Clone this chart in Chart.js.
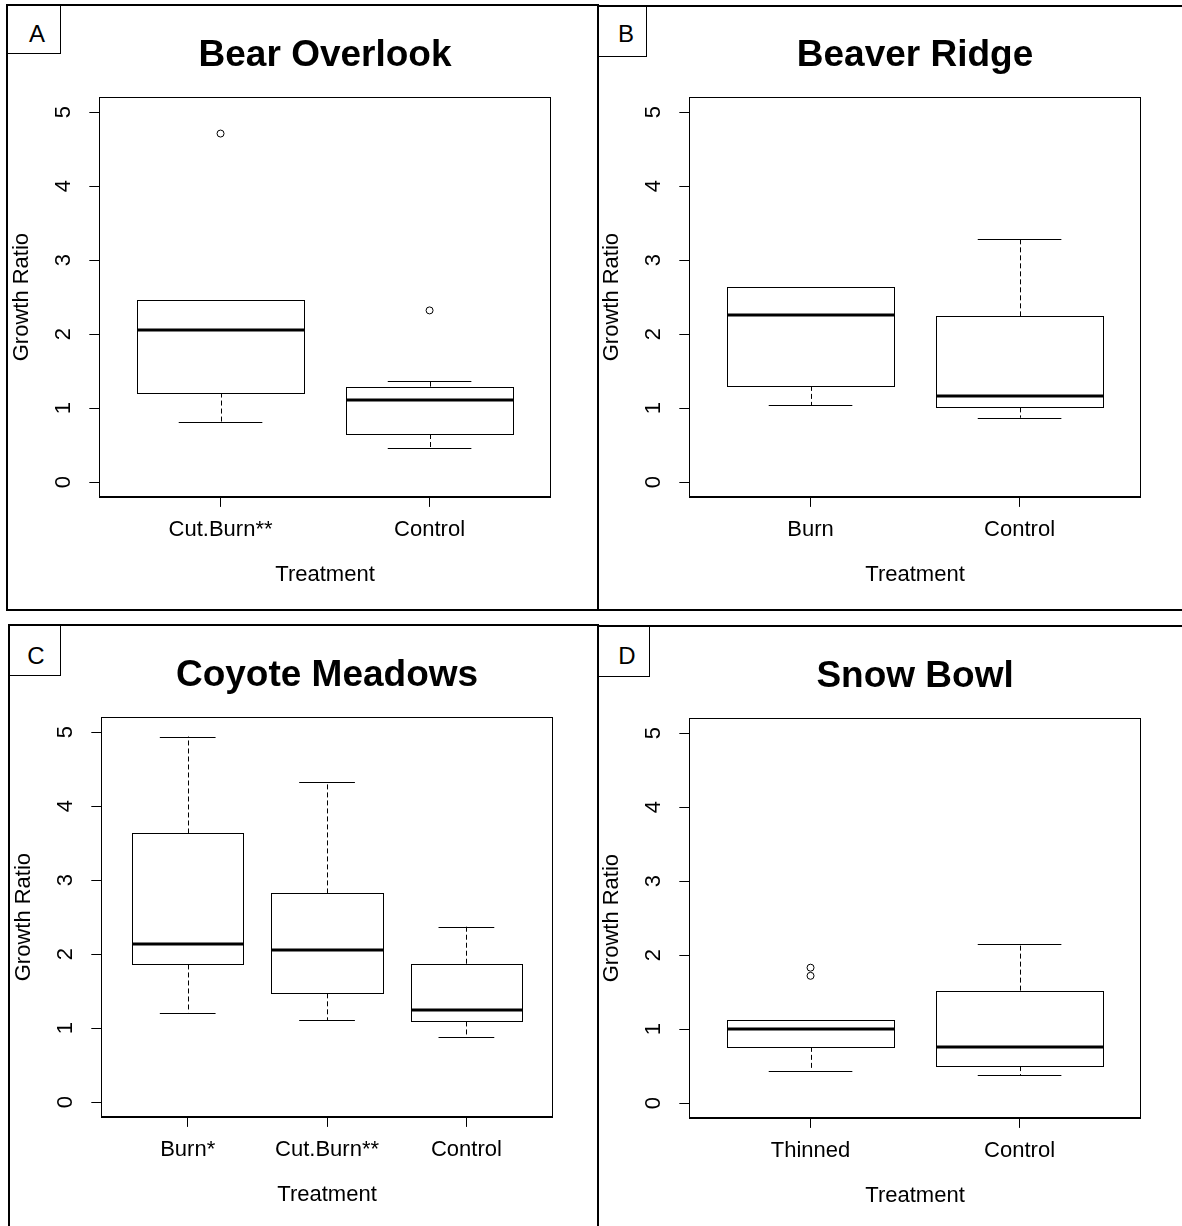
<!DOCTYPE html>
<html>
<head>
<meta charset="utf-8">
<script src="https://cdn.jsdelivr.net/npm/chart.js@4.4.1/dist/chart.umd.min.js"></script>
<style>
  body { margin: 0; background: #fff; width: 1182px; height: 1226px; overflow: hidden; position: relative;
         font-family: "Liberation Sans", Arial, sans-serif; }
  .frame { position: absolute; border: 2px solid #000; box-sizing: border-box; }
  .tag { position: absolute; border: 1.5px solid #000; box-sizing: border-box; }
  .letter { position: absolute; font-size: 24px; line-height: 1; transform: translate(-50%, -50%); color: #000; }
  .panel { position: absolute; width: 598px; height: 610px; }
</style>
</head>
<body>
<div class="frame" style="left:6px;top:4px;width:593px;height:607px"></div>
<div class="frame" style="left:597px;top:5px;width:620px;height:606px"></div>
<div class="frame" style="left:8px;top:624px;width:591px;height:640px"></div>
<div class="frame" style="left:597px;top:625px;width:620px;height:640px"></div>

<div class="tag" style="left:6px;top:4px;width:55px;height:50px"></div>
<div class="tag" style="left:597px;top:5px;width:50px;height:52px"></div>
<div class="tag" style="left:8px;top:624px;width:53px;height:52px"></div>
<div class="tag" style="left:597px;top:625px;width:53px;height:52px"></div>
<div class="letter" style="left:37px;top:34px">A</div>
<div class="letter" style="left:626px;top:34px">B</div>
<div class="letter" style="left:36px;top:656px">C</div>
<div class="letter" style="left:627px;top:656px">D</div>

<div class="panel" style="left:0px;top:0px"><canvas id="chartA" width="598" height="610"></canvas></div>
<div class="panel" style="left:590px;top:0px"><canvas id="chartB" width="598" height="610"></canvas></div>
<div class="panel" style="left:2px;top:620px"><canvas id="chartC" width="598" height="610"></canvas></div>
<div class="panel" style="left:590px;top:621px"><canvas id="chartD" width="598" height="610"></canvas></div>

<script>
// eixo y comum
const yTicks = [0, 1, 2, 3, 4, 5];

// A - Bear Overlook
const catsA = ["Cut.Burn**", "Control"];
const lowA = [0.81, 0.46];
const q1A = [1.21, 0.65];
const medA = [2.05, 1.11];
const q3A = [2.46, 1.29];
const highA = [2.46, 1.37];
const outA = [[4.71], [2.32]];

// B - Beaver Ridge
const catsB = ["Burn", "Control"];
const lowB = [1.04, 0.87];
const q1B = [1.30, 1.01];
const medB = [2.26, 1.17];
const q3B = [2.63, 2.24];
const highB = [2.63, 3.28];
const outB = [[], []];

// C - Coyote Meadows
const catsC = ["Burn*", "Cut.Burn**", "Control"];
const lowC = [1.21, 1.11, 0.88];
const q1C = [1.86, 1.47, 1.09];
const medC = [2.14, 2.06, 1.25];
const q3C = [3.63, 2.82, 1.87];
const highC = [4.94, 4.33, 2.37];
const outC = [[], [], []];

// D - Snow Bowl
const catsD = ["Thinned", "Control"];
const lowD = [0.44, 0.38];
const q1D = [0.76, 0.50];
const medD = [1.00, 0.76];
const q3D = [1.12, 1.52];
const highD = [1.12, 2.15];
const outD = [[1.83, 1.72], []];

Chart.defaults.font.family = '"Liberation Sans", Arial, sans-serif';
Chart.defaults.color = "#000";

const snap = (v) => Math.round(v) + 0.5;

// desenha caixas estilo R usando as escalas do grafico
const boxPlugin = {
  id: "boxes",
  beforeDatasetsDraw(chart) {
    const { ctx, chartArea: a, scales: { x, y } } = chart;
    const b = chart.options.plugins.boxes;
    ctx.save();
    ctx.strokeStyle = "#000";
    ctx.lineWidth = 1;
    ctx.strokeRect(snap(a.left), snap(a.top), Math.round(a.right - a.left), Math.round(a.bottom - a.top));

    b.q1.forEach((_, i) => {
      const cx = x.getPixelForValue(i + 1);
      const hw = x.getPixelForValue(i + 1.4) - cx;
      const sw = x.getPixelForValue(i + 1.2) - cx;
      const pLow = y.getPixelForValue(b.low[i]);
      const pQ1 = y.getPixelForValue(b.q1[i]);
      const pMed = y.getPixelForValue(b.med[i]);
      const pQ3 = y.getPixelForValue(b.q3[i]);
      const pHigh = y.getPixelForValue(b.high[i]);
      const xc = snap(cx);

      // bigodes tracejados
      ctx.lineWidth = 1;
      ctx.setLineDash([5, 3]);
      ctx.beginPath();
      ctx.moveTo(xc, pQ3); ctx.lineTo(xc, pHigh);
      ctx.moveTo(xc, pQ1); ctx.lineTo(xc, pLow);
      ctx.stroke();
      ctx.setLineDash([]);

      // staples
      ctx.beginPath();
      ctx.moveTo(cx - sw, snap(pHigh)); ctx.lineTo(cx + sw, snap(pHigh));
      ctx.moveTo(cx - sw, snap(pLow)); ctx.lineTo(cx + sw, snap(pLow));
      ctx.stroke();

      // caixa
      const l = snap(cx - hw), r = snap(cx + hw);
      const t = snap(pQ3), bt = snap(pQ1);
      ctx.fillStyle = "#fff";
      ctx.fillRect(l, t, r - l, bt - t);
      ctx.strokeRect(l, t, r - l, bt - t);

      // mediana
      ctx.lineWidth = 3;
      ctx.beginPath();
      ctx.moveTo(l, Math.round(pMed)); ctx.lineTo(r, Math.round(pMed));
      ctx.stroke();
    });
    ctx.restore();
  }
};

function makeChart(id, title, cats, low, q1, med, q3, high, outs) {
  const n = cats.length;
  const pts = [];
  outs.forEach((vals, i) => vals.forEach((v) => pts.push({ x: i + 1, y: v })));
  const catTicks = cats.map((_, i) => i + 1);

  return new Chart(document.getElementById(id), {
    type: "scatter",
    data: {
      datasets: [{
        data: pts,
        pointStyle: "circle",
        pointRadius: 3.5,
        pointBorderWidth: 1,
        borderColor: "#000",
        backgroundColor: "rgba(255,255,255,0)"
      }]
    },
    options: {
      responsive: false,
      animation: false,
      devicePixelRatio: 1,
      layout: { padding: { left: 0, right: 47.2, top: 0, bottom: 0 } },
      plugins: {
        legend: { display: false },
        tooltip: { enabled: false },
        title: {
          display: true,
          text: title,
          fullSize: false,
          color: "#000",
          font: { size: 37, weight: "bold" },
          padding: { top: 34, bottom: 18.9 }
        },
        boxes: { low, q1, med, q3, high }
      },
      scales: {
        x: {
          type: "linear",
          min: 0.5 - 0.04 * n,
          max: n + 0.5 + 0.04 * n,
          afterBuildTicks: (s) => { s.ticks = catTicks.map((v) => ({ value: v })); },
          afterFit: (s) => { s.height = 113.1; },
          grid: { drawOnChartArea: false, drawTicks: true, tickLength: 10, color: "#000", lineWidth: 1 },
          border: { display: true, color: "#000", width: 1 },
          ticks: {
            callback: (v) => cats[Math.round(v) - 1],
            maxRotation: 0,
            autoSkip: false,
            padding: 10,
            font: { size: 22 },
            color: "#000"
          },
          title: {
            display: true,
            text: "Treatment",
            font: { size: 22 },
            color: "#000",
            padding: { top: 0, bottom: 22 }
          }
        },
        y: {
          type: "linear",
          min: -0.2,
          max: 5.2,
          afterBuildTicks: (s) => { s.ticks = yTicks.map((v) => ({ value: v })); },
          afterFit: (s) => { s.width = 99.3; },
          grid: { drawOnChartArea: false, drawTicks: true, tickLength: 10, color: "#000", lineWidth: 1 },
          border: { display: true, color: "#000", width: 1 },
          ticks: {
            minRotation: 90,
            maxRotation: 90,
            crossAlign: "center",
            padding: 19,
            font: { size: 22 },
            color: "#000"
          },
          title: {
            display: true,
            text: "Growth Ratio",
            font: { size: 22 },
            color: "#000",
            padding: { top: 9, bottom: 0 }
          }
        }
      }
    },
    plugins: [boxPlugin]
  });
}

makeChart("chartA", "Bear Overlook", catsA, lowA, q1A, medA, q3A, highA, outA);
makeChart("chartB", "Beaver Ridge", catsB, lowB, q1B, medB, q3B, highB, outB);
makeChart("chartC", "Coyote Meadows", catsC, lowC, q1C, medC, q3C, highC, outC);
makeChart("chartD", "Snow Bowl", catsD, lowD, q1D, medD, q3D, highD, outD);
</script>
</body>
</html>
